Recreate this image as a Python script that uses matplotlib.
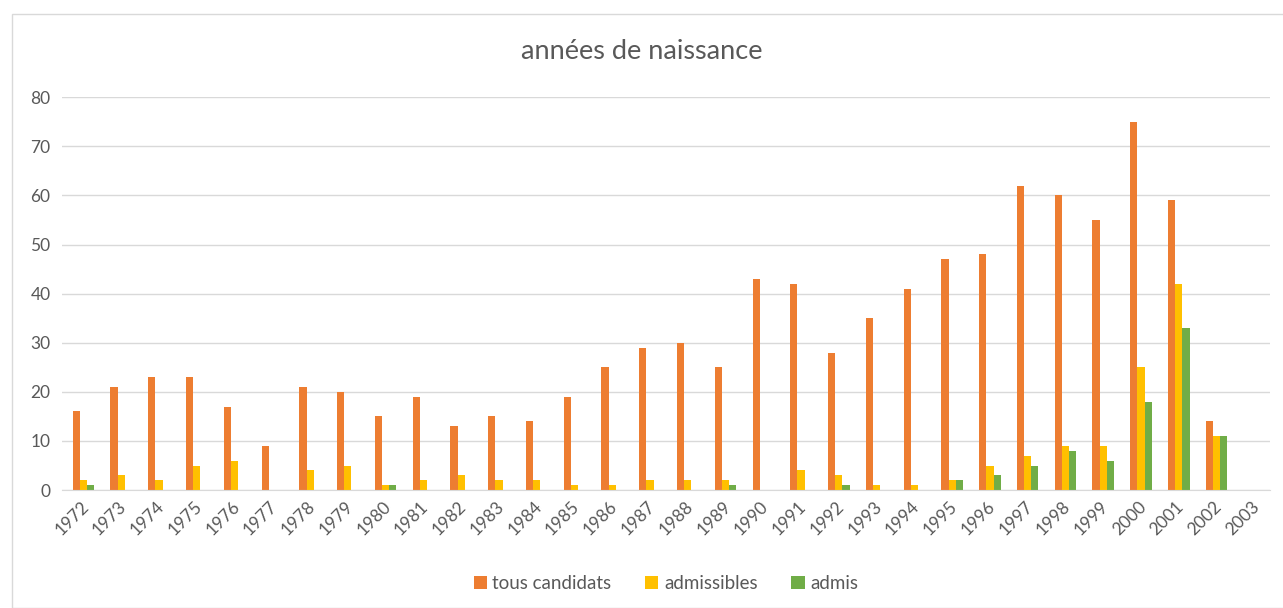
import numpy as np
import matplotlib.pyplot as plt
from matplotlib.patches import Rectangle

annees = [str(a) for a in range(1972, 2004)]
tous_candidats = [16, 21, 23, 23, 17, 9, 21, 20, 15, 19, 13, 15, 14, 19, 25, 29,
                  30, 25, 43, 42, 28, 35, 41, 47, 48, 62, 60, 55, 75, 59, 14, 0]
admissibles = [2, 3, 2, 5, 6, 0, 4, 5, 1, 2, 3, 2, 2, 1, 1, 2,
               2, 2, 0, 4, 3, 1, 1, 2, 5, 7, 9, 9, 25, 42, 11, 0]
admis = [1, 0, 0, 0, 0, 0, 0, 0, 1, 0, 0, 0, 0, 0, 0, 0,
         0, 1, 0, 0, 1, 0, 0, 2, 3, 5, 8, 6, 18, 33, 11, 0]

plt.rcParams['font.family'] = ['Lato', 'DejaVu Sans']
gris = '#595959'

fig = plt.figure(figsize=(12.83, 6.08), dpi=100)
ax = fig.add_axes([0.048, 0.194, 0.942, 0.646])

x = np.arange(len(annees))
w = 0.19
ax.bar(x - w + 0.08, tous_candidats, w, color='#ed7d31', label='tous candidats')
ax.bar(x + 0.08, admissibles, w, color='#ffc000', label='admissibles')
ax.bar(x + w + 0.08, admis, w, color='#70ad47', label='admis')

ax.set_xlim(-0.5, len(annees) - 0.5)
ax.set_ylim(0, 80)
ax.set_yticks(range(0, 81, 10))
ax.set_xticks(x)
ax.set_xticklabels(annees, rotation=45, ha='right', rotation_mode='anchor')
ax.tick_params(length=0, colors=gris, labelsize=12.5)
ax.tick_params(axis='x', pad=6)
ax.tick_params(axis='y', pad=8)
ax.grid(axis='y', color='#d9d9d9', linewidth=1)
ax.set_axisbelow(True)
for s in ['top', 'right', 'left']:
    ax.spines[s].set_visible(False)
ax.spines['bottom'].set_color('#d9d9d9')

fig.text(0.5, 0.915, 'années de naissance', ha='center', va='center',
         fontsize=19.5, color=gris)

ax.legend(loc='center', bbox_to_anchor=(0.5, -0.237), ncol=3, frameon=False,
          fontsize=13.5, labelcolor=gris, handlelength=0.7, handleheight=0.7,
          handletextpad=0.3, columnspacing=1.8)

fig.patches.append(Rectangle((12 / 1283, 0.0), 1.0, 1 - 14 / 608,
                             transform=fig.transFigure, fill=False,
                             edgecolor='#d9d9d9', linewidth=1))

fig.savefig('out.png', dpi=100, facecolor='white')
